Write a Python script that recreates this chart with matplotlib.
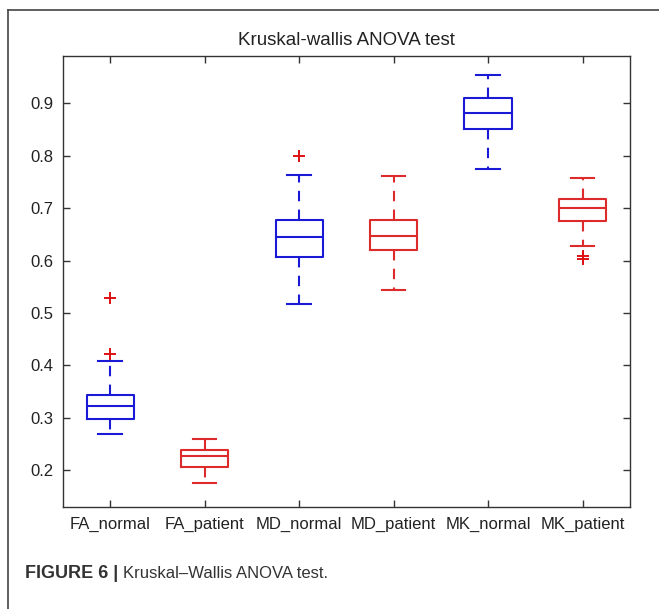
import numpy as np
import matplotlib.pyplot as plt
from matplotlib.lines import Line2D

plt.rcParams['font.family'] = ['Liberation Sans', 'DejaVu Sans']

###Data
groups = ['FA_normal', 'FA_patient', 'MD_normal', 'MD_patient', 'MK_normal', 'MK_patient']
whislo = [0.269, 0.175, 0.517, 0.544, 0.774, 0.628]
q1 = [0.297, 0.207, 0.607, 0.621, 0.850, 0.676]
med = [0.322, 0.228, 0.645, 0.646, 0.882, 0.701]
q3 = [0.344, 0.238, 0.678, 0.678, 0.910, 0.718]
whishi = [0.409, 0.259, 0.764, 0.762, 0.953, 0.757]
fliers = [[0.422, 0.528], [], [0.799], [], [], [0.602, 0.609]]
box_colors = ['#1a1ad6', '#dd2a2a', '#1a1ad6', '#dd2a2a', '#1a1ad6', '#dd2a2a']

stats = []
for i in range(len(groups)):
    stats.append({'label': groups[i], 'whislo': whislo[i], 'q1': q1[i], 'med': med[i],
                  'q3': q3[i], 'whishi': whishi[i], 'fliers': fliers[i]})

fig = plt.figure(figsize=(6.59, 6.09), dpi=100)
ax = fig.add_axes([0.0956, 0.1675, 0.860, 0.7405])

#one bxp call per box so every box gets its own colour
for i in range(len(groups)):
    c = box_colors[i]
    ax.bxp([stats[i]], positions=[i + 1], widths=0.5, capwidths=0.25,
           boxprops=dict(color=c, linewidth=1.5),
           medianprops=dict(color=c, linewidth=1.5),
           whiskerprops=dict(color=c, linewidth=1.5, linestyle=(0, (5, 4))),
           capprops=dict(color=c, linewidth=1.5),
           flierprops=dict(marker='+', markeredgecolor='#dd1111', markersize=9, markeredgewidth=1.4))

ax.set_xlim(0.5, 6.5)
ax.set_ylim(0.13, 0.99)
ax.set_xticks(range(1, 7))
ax.set_xticklabels(groups)
ax.set_yticks(np.arange(0.2, 0.95, 0.1))
ax.set_yticklabels(['0.2', '0.3', '0.4', '0.5', '0.6', '0.7', '0.8', '0.9'])
ax.tick_params(direction='in', length=5, width=1, top=True, right=True,
               labelsize=12, colors='#333333', labelcolor='#222222', pad=7)
for s in ax.spines.values():
    s.set_color('#333333')
    s.set_linewidth(1)
ax.set_title('Kruskal-wallis ANOVA test', fontsize=13.5, color='#222222', pad=8)

##Outer frame (top and left edges only)
fig.add_artist(Line2D([8 / 659, 1], [1 - 10 / 609, 1 - 10 / 609], transform=fig.transFigure, color='#444444', lw=1.2))
fig.add_artist(Line2D([8 / 659, 8 / 659], [1 - 10 / 609, 0], transform=fig.transFigure, color='#444444', lw=1.2))

##Caption
t1 = fig.text(25 / 659, 1 - 573 / 609, 'FIGURE 6 | ', fontsize=13, fontweight='bold', color='#333333', va='center')
fig.canvas.draw()
bb = t1.get_window_extent()
fig.text(bb.x1 / fig.bbox.width, 1 - 573 / 609, 'Kruskal\u2013Wallis ANOVA test.', fontsize=12, color='#333333', va='center')

plt.savefig('out.png', dpi=100)
